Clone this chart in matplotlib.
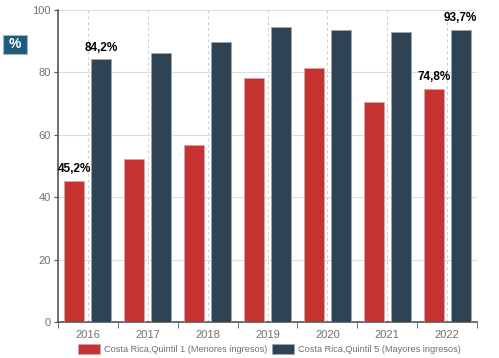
import numpy as np
import matplotlib.pyplot as plt
from matplotlib.patches import FancyBboxPatch

plt.rcParams['font.family'] = ['Liberation Sans', 'DejaVu Sans']

years = ["2016", "2017", "2018", "2019", "2020", "2021", "2022"]
quintil1 = [45.2, 52.2, 56.7, 78.1, 81.3, 70.5, 74.8]
quintil5 = [84.2, 86.1, 89.7, 94.6, 93.7, 93.0, 93.7]
labels1 = {0: "45,2%", 6: "74,8%"}
labels5 = {0: "84,2%", 6: "93,7%"}

red = "#c4332f"
dark = "#2e4353"

fig = plt.figure(figsize=(4.99, 3.58), dpi=100)
ax = fig.add_axes([0.1162, 0.1006, 0.8398, 0.8714])

x = np.arange(len(years))
w = 0.333
ax.bar(x - 0.225, quintil1, w, color=red, edgecolor="#e0a0a0", linewidth=0.6, zorder=3,
       label="Costa Rica,Quintil 1 (Menores ingresos)")
ax.bar(x + 0.225, quintil5, w, color=dark, edgecolor="#9aa6b0", linewidth=0.6, zorder=3,
       label="Costa Rica,Quintil 5 (Mayores ingresos)")

for i, t in labels1.items():
    ax.text(x[i] - 0.225, quintil1[i] + 1.8, t, ha="center", va="bottom", fontsize=8.5,
            fontweight="bold", color="black", zorder=4)
for i, t in labels5.items():
    ax.text(x[i] + 0.225, quintil5[i] + 1.8, t, ha="center", va="bottom", fontsize=8.5,
            fontweight="bold", color="black", zorder=4)

ax.set_xlim(-0.5, len(years) - 0.5)
ax.set_ylim(0, 100)
ax.set_yticks([0, 20, 40, 60, 80, 100])
ax.set_xticks(x)
ax.set_xticklabels(years)
ax.set_xticks(np.arange(len(years) + 1) - 0.5, minor=True)
ax.tick_params(axis="x", which="major", length=0, colors="#707070", labelsize=8, pad=6)
ax.tick_params(axis="x", which="minor", length=4, color="#555555")
ax.tick_params(axis="y", length=3, color="#555555", colors="#707070", labelsize=8, pad=2)

ax.grid(axis="y", color="#dddddd", linewidth=0.8, zorder=0)
ax.grid(axis="x", which="major", color="#cccccc", linewidth=0.7, linestyle=(0, (3, 3)), zorder=0)

for s in ["top", "right"]:
    ax.spines[s].set_visible(False)
ax.spines["left"].set_color("#555555")
ax.spines["bottom"].set_color("#555555")
ax.spines["left"].set_linewidth(1.2)
ax.spines["bottom"].set_linewidth(1.2)

leg = fig.legend(loc="lower center", bbox_to_anchor=(0.54, -0.012), ncol=2, frameon=False,
                 fontsize=6.6, handlelength=2.4, handleheight=1.3, columnspacing=0.6,
                 handletextpad=0.4)
for t in leg.get_texts():
    t.set_color("#707070")

badge = FancyBboxPatch((3 / 499, 1 - 54 / 358), 24 / 499, 19 / 358,
                       boxstyle="square,pad=0", transform=fig.transFigure,
                       facecolor="#1e5a7c", edgecolor="#9fb6c6", linewidth=0.8)
fig.patches.append(badge)
fig.text(15 / 499, 1 - 44.5 / 358, "%", ha="center", va="center", color="white",
         fontsize=10, fontweight="bold")

fig.savefig("out.png", dpi=100)
